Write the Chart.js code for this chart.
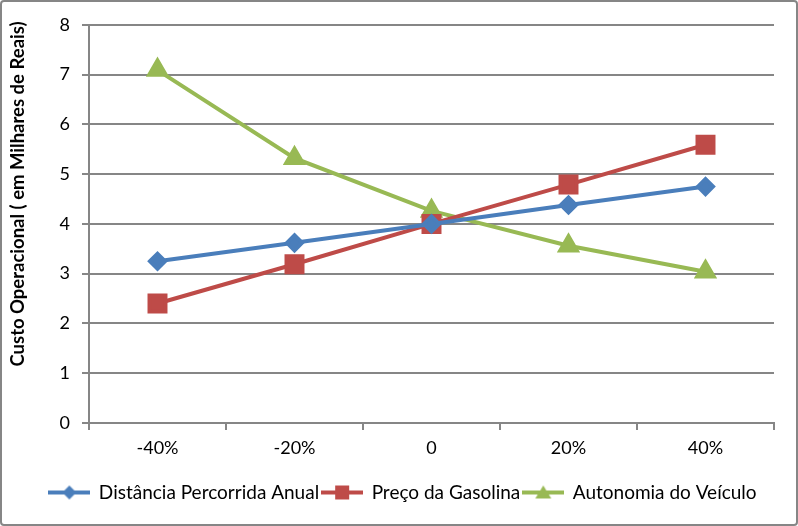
<!DOCTYPE html>
<html>
<head>
<meta charset="utf-8">
<script src="https://cdn.jsdelivr.net/npm/chart.js@4"></script>
<style>
  html, body { margin: 0; padding: 0; background: #fff; }
  #wrap {
    position: absolute; left: 0; top: 0;
    width: 794px; height: 522px;
    border: 2px solid #868686; border-radius: 4px;
    overflow: hidden;
  }
  canvas { display: block; }
</style>
</head>
<body>
<div id="wrap"><canvas id="costChart" width="794" height="522"></canvas></div>
<script>
const categories = ["-40%", "-20%", "0", "20%", "40%"];
const distancia = [3.25, 3.62, 4.0, 4.38, 4.75];
const gasolina = [2.4, 3.19, 4.0, 4.79, 5.59];
const autonomia = [7.09, 5.32, 4.26, 3.56, 3.04];
const yTitle = "Custo Operacional ( em Milhares de Reais)";

const FONT = "Lato, 'Open Sans', sans-serif";

// small canvas used as legend symbol: line with the marker in the middle
function legendSymbol(color, style) {
  const c = document.createElement("canvas");
  c.width = 42; c.height = 18;
  const ctx = c.getContext("2d");
  ctx.strokeStyle = color;
  ctx.lineWidth = 4;
  ctx.beginPath();
  ctx.moveTo(0, 9); ctx.lineTo(42, 9);
  ctx.stroke();
  ctx.fillStyle = color;
  ctx.beginPath();
  if (style === "rectRot") {
    ctx.moveTo(21, 2); ctx.lineTo(28, 9); ctx.lineTo(21, 16); ctx.lineTo(14, 9);
  } else if (style === "rect") {
    ctx.rect(14, 2, 14, 14);
  } else {
    ctx.moveTo(21, 2); ctx.lineTo(29, 15); ctx.lineTo(13, 15);
  }
  ctx.closePath();
  ctx.fill();
  return c;
}

// y axis title, drawn a bit above the plot centre like the original
const yTitlePlugin = {
  id: "yTitle",
  afterDraw(chart) {
    const c = chart.ctx;
    c.save();
    c.translate(16, 192);
    c.rotate(-Math.PI / 2);
    c.font = "bold 18.5px " + FONT;
    c.fillStyle = "#000";
    c.textAlign = "center";
    c.textBaseline = "middle";
    c.fillText(yTitle, 0, 0);
    c.restore();
  },
};

const ctx = document.getElementById("costChart").getContext("2d");
const chart = new Chart(ctx, {
  type: "line",
  data: {
    labels: categories,
    datasets: [
      {
        label: "Distância Percorrida Anual",
        data: distancia,
        borderColor: "#4A7EBB",
        backgroundColor: "#4A7EBB",
        borderWidth: 4,
        pointStyle: "rectRot",
        pointRadius: 7.5,
        legendSymbol: legendSymbol("#4A7EBB", "rectRot"),
      },
      {
        label: "Preço da Gasolina",
        data: gasolina,
        borderColor: "#BE4B48",
        backgroundColor: "#BE4B48",
        borderWidth: 4,
        pointStyle: "rect",
        pointRadius: 11.3,
        legendSymbol: legendSymbol("#BE4B48", "rect"),
      },
      {
        label: "Autonomia do Veículo",
        data: autonomia,
        borderColor: "#98B954",
        backgroundColor: "#98B954",
        borderWidth: 4,
        pointStyle: "triangle",
        pointRadius: 9.5,
        legendSymbol: legendSymbol("#98B954", "triangle"),
      },
    ],
  },
  plugins: [yTitlePlugin],
  options: {
    responsive: false,
    animation: false,
    layout: { padding: { top: 18, right: 22, left: 30, bottom: 12 } },
    plugins: {
      tooltip: { enabled: false },
      legend: {
        position: "bottom",
        labels: {
          usePointStyle: true,
          pointStyleWidth: 40,
          color: "#000",
          font: { family: FONT, size: 19 },
          padding: 3,
          generateLabels: (chart) =>
            chart.data.datasets.map((ds, i) => ({
              text: ds.label,
              pointStyle: ds.legendSymbol,
              fillStyle: ds.backgroundColor,
              strokeStyle: ds.borderColor,
              lineWidth: 0,
              datasetIndex: i,
              hidden: false,
            })),
        },
      },
    },
    scales: {
      x: {
        offset: true,
        afterFit: (scale) => { scale.height = 57; },
        grid: {
          offset: true,
          drawOnChartArea: false,
          drawTicks: true,
          tickLength: 7,
          color: "#868686",
          lineWidth: 2,
        },
        border: { color: "#868686", width: 2 },
        ticks: {
          color: "#000",
          font: { family: FONT, size: 18 },
          padding: 7,
          maxRotation: 0,
        },
      },
      y: {
        min: 0,
        max: 8,
        afterFit: (scale) => { scale.width = 57; },
        grid: {
          color: "#868686",
          lineWidth: 2,
          tickLength: 7,
        },
        border: { color: "#868686", width: 2 },
        ticks: {
          stepSize: 1,
          color: "#000",
          font: { family: FONT, size: 18 },
          padding: 12,
        },
      },
    },
  },
});
</script>
</body>
</html>
